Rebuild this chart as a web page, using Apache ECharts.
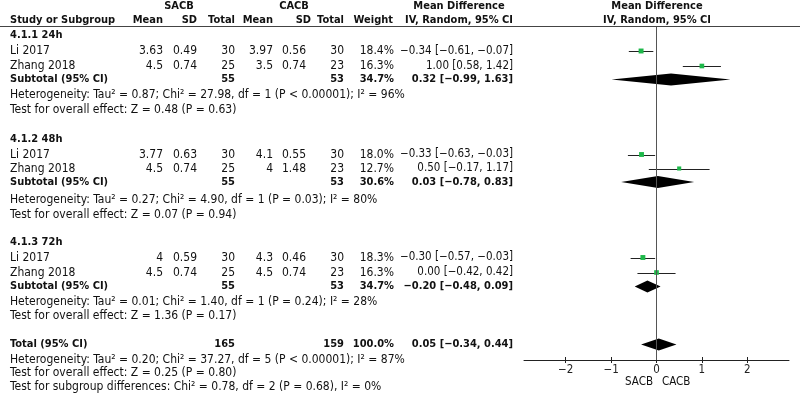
<!DOCTYPE html>
<html>
<head>
<meta charset="utf-8">
<style>
  html, body { margin: 0; padding: 0; background: #fff; }
  #chart { width: 800px; height: 398px; }
</style>
<script src="https://cdn.jsdelivr.net/npm/echarts@6/dist/echarts.min.js"></script>
</head>
<body>
<div id="chart"></div>
<script>
// ---- data ----
var groupNames = ['4.1.1 24h', '4.1.2 48h', '4.1.3 72h'];
var studyNames = [['Li 2017', 'Zhang 2018'], ['Li 2017', 'Zhang 2018'], ['Li 2017', 'Zhang 2018']];
var sacbMean = [[3.63, 4.5], [3.77, 4.5], [4, 4.5]];
var sacbSD   = [[0.49, 0.74], [0.63, 0.74], [0.59, 0.74]];
var sacbN    = [[30, 25], [30, 25], [30, 25]];
var cacbMean = [[3.97, 3.5], [4.1, 4], [4.3, 4.5]];
var cacbSD   = [[0.56, 0.74], [0.55, 1.48], [0.46, 0.74]];
var cacbN    = [[30, 23], [30, 23], [30, 23]];
var weights  = [[18.4, 16.3], [18.0, 12.7], [18.3, 16.3]];
var md       = [[-0.34, 1.00], [-0.33, 0.50], [-0.30, 0.00]];
var ciLow    = [[-0.61, 0.58], [-0.63, -0.17], [-0.57, -0.42]];
var ciHigh   = [[-0.07, 1.42], [-0.03, 1.17], [-0.03, 0.42]];

var subN1 = [55, 55, 55];
var subN2 = [53, 53, 53];
var subW  = [34.7, 30.6, 34.7];
var subMd = [0.32, 0.03, -0.20];
var subLow = [-0.99, -0.78, -0.48];
var subHigh = [1.63, 0.83, 0.09];
var subHet = [
    'Heterogeneity: Tau² = 0.87; Chi² = 27.98, df = 1 (P < 0.00001); I² = 96%',
    'Heterogeneity: Tau² = 0.27; Chi² = 4.90, df = 1 (P = 0.03); I² = 80%',
    'Heterogeneity: Tau² = 0.01; Chi² = 1.40, df = 1 (P = 0.24); I² = 28%'
];
var subTest = [
    'Test for overall effect: Z = 0.48 (P = 0.63)',
    'Test for overall effect: Z = 0.07 (P = 0.94)',
    'Test for overall effect: Z = 1.36 (P = 0.17)'
];

var totalN1 = 165, totalN2 = 159, totalW = 100.0;
var totalMd = 0.05, totalLow = -0.34, totalHigh = 0.44;
var totalNotes = [
    'Heterogeneity: Tau² = 0.20; Chi² = 37.27, df = 5 (P < 0.00001); I² = 87%',
    'Test for overall effect: Z = 0.25 (P = 0.80)',
    'Test for subgroup differences: Chi² = 0.78, df = 2 (P = 0.68), I² = 0%'
];
var xTicks = [-2, -1, 0, 1, 2];

// ---- layout: vertical centre of each row (px) ----
var headY = [6, 20.5];
var groupRows = [
    { title: 35,    study: [51, 66],       sub: 79.5,  het: 95,  test: 109.5 },
    { title: 139.5, study: [154.5, 168.5], sub: 182,   het: 200, test: 214.5 },
    { title: 242.5, study: [257.5, 272.5], sub: 286.5, het: 302, test: 316 }
];
var totalRow = { sub: 344.5, notes: [359.5, 373, 386.5] };

var FONT = "'DejaVu Sans Condensed', 'Open Sans', sans-serif";
var col = { name: 10, m1: 163, sd1: 197, n1: 235, m2: 273, sd2: 306, n2: 344, w: 394, ci: 513 };

function neg(v) { return v.toFixed(2).replace('-', '−'); }
function ciText(e, l, h) { return neg(e) + ' [' + neg(l) + ', ' + neg(h) + ']'; }

var texts = [];
function t(str, x, y, align, bold, size) {
    texts.push({
        type: 'text', silent: true,
        style: {
            text: str, x: x, y: y,
            textAlign: align || 'left', textVerticalAlign: 'middle',
            align: align || 'left', verticalAlign: 'middle',
            fontFamily: FONT, fontSize: size || (bold ? 11 : 12), fontWeight: bold ? 'bold' : 'normal',
            fill: '#111'
        }
    });
}

// header
t('SACB', 179, headY[0], 'center', true);
t('CACB', 294, headY[0], 'center', true);
t('Mean Difference', 459, headY[0], 'center', true);
t('Mean Difference', 657, headY[0], 'center', true);
t('Study or Subgroup', col.name, headY[1], 'left', true);
t('Mean', col.m1, headY[1], 'right', true);
t('SD', col.sd1, headY[1], 'right', true);
t('Total', col.n1, headY[1], 'right', true);
t('Mean', col.m2, headY[1], 'right', true);
t('SD', 311, headY[1], 'right', true);
t('Total', col.n2, headY[1], 'right', true);
t('Weight', 393, headY[1], 'right', true);
t('IV, Random, 95% CI', col.ci, headY[1], 'right', true);
t('IV, Random, 95% CI', 657, headY[1], 'center', true);

var squares = [], whiskers = [], diamonds = [];
groupNames.forEach(function(g, gi) {
    var r = groupRows[gi];
    t(g, col.name, r.title, 'left', true);
    studyNames[gi].forEach(function(s, si) {
        var y = r.study[si];
        t(s, col.name, y, 'left');
        t(String(sacbMean[gi][si]), col.m1, y, 'right');
        t(String(sacbSD[gi][si]), col.sd1, y, 'right');
        t(String(sacbN[gi][si]), col.n1, y, 'right');
        t(String(cacbMean[gi][si]), col.m2, y, 'right');
        t(String(cacbSD[gi][si]), col.sd2, y, 'right');
        t(String(cacbN[gi][si]), col.n2, y, 'right');
        t(weights[gi][si].toFixed(1) + '%', col.w, y, 'right');
        t(ciText(md[gi][si], ciLow[gi][si], ciHigh[gi][si]), col.ci, y, 'right', false, 11.5);
        squares.push([md[gi][si], y, weights[gi][si]]);
        whiskers.push([ciLow[gi][si], ciHigh[gi][si], y]);
    });
    t('Subtotal (95% CI)', col.name, r.sub, 'left', true);
    t(String(subN1[gi]), col.n1, r.sub, 'right', true);
    t(String(subN2[gi]), col.n2, r.sub, 'right', true);
    t(subW[gi].toFixed(1) + '%', col.w, r.sub, 'right', true);
    t(ciText(subMd[gi], subLow[gi], subHigh[gi]), col.ci, r.sub, 'right', true);
    t(subHet[gi], col.name, r.het, 'left');
    t(subTest[gi], col.name, r.test, 'left');
    diamonds.push([subLow[gi], subMd[gi], subHigh[gi], r.sub]);
});
t('Total (95% CI)', col.name, totalRow.sub, 'left', true);
t(String(totalN1), col.n1, totalRow.sub, 'right', true);
t(String(totalN2), col.n2, totalRow.sub, 'right', true);
t(totalW.toFixed(1) + '%', col.w, totalRow.sub, 'right', true);
t(ciText(totalMd, totalLow, totalHigh), col.ci, totalRow.sub, 'right', true);
totalNotes.forEach(function(n, i) { t(n, col.name, totalRow.notes[i], 'left'); });
diamonds.push([totalLow, totalMd, totalHigh, totalRow.sub]);

// axis footer labels either side of zero
t('SACB', 653, 382, 'right', false, 11.5);
t('CACB', 662, 382, 'left', false, 11.5);

// header rule
texts.push({
    type: 'line', silent: true,
    shape: { x1: 0, y1: 26.5, x2: 800, y2: 26.5 },
    style: { stroke: '#444', lineWidth: 1 }
});

var chart = echarts.init(document.getElementById('chart'), null, { renderer: 'canvas' });
var axisMin = -2.92, axisMax = 2.92;
chart.setOption({
    animation: false,
    grid: { left: 524, right: 11, top: 27, bottom: 38 },
    xAxis: [{
        type: 'value', min: axisMin, max: axisMax,
        axisLine: { lineStyle: { color: '#222', width: 1 } },
        axisTick: { show: true, length: 3, customValues: xTicks, lineStyle: { color: '#222' } },
        axisLabel: {
            customValues: xTicks, margin: 4, color: '#222',
            fontFamily: FONT, fontSize: 11.5,
            formatter: function(v) { return String(v).replace('-', '−'); }
        },
        splitLine: { show: false }
    }, {
        type: 'value', min: axisMin, max: axisMax, position: 'bottom',
        axisLine: { show: false },
        axisTick: { show: true, inside: true, length: 3, customValues: xTicks, lineStyle: { color: '#222' } },
        axisLabel: { show: false },
        splitLine: { show: false }
    }],
    yAxis: {
        type: 'value', inverse: true, min: 27, max: 360, show: false
    },
    graphic: texts,
    series: [{
        type: 'custom',
        z: 2,
        renderItem: function(params, api) {
            var a = api.coord([api.value(0), api.value(2)]);
            var b = api.coord([api.value(1), api.value(2)]);
            var y = Math.round(a[1]) + 0.5;
            return { type: 'line', shape: { x1: a[0], y1: y, x2: b[0], y2: y },
                     style: { stroke: '#222', lineWidth: 1 } };
        },
        data: whiskers,
        markLine: {
            silent: true, symbol: 'none', label: { show: false },
            lineStyle: { color: '#555', width: 1, type: 'solid' },
            data: [{ xAxis: 0 }]
        }
    }, {
        type: 'scatter',
        z: 3,
        symbol: 'rect',
        symbolSize: function(v) { return 1.15 * Math.sqrt(v[2]); },
        itemStyle: { color: '#1eb84a', opacity: 1 },
        data: squares
    }, {
        type: 'custom',
        z: 4,
        renderItem: function(params, api) {
            var y = api.value(3);
            var l = api.coord([api.value(0), y]);
            var m = api.coord([api.value(1), y]);
            var h = api.coord([api.value(2), y]);
            var hh = 6;
            return { type: 'polygon',
                     shape: { points: [[l[0], l[1]], [m[0], m[1] - hh], [h[0], h[1]], [m[0], m[1] + hh]] },
                     style: { fill: '#000' } };
        },
        data: diamonds
    }]
});
</script>
</body>
</html>
